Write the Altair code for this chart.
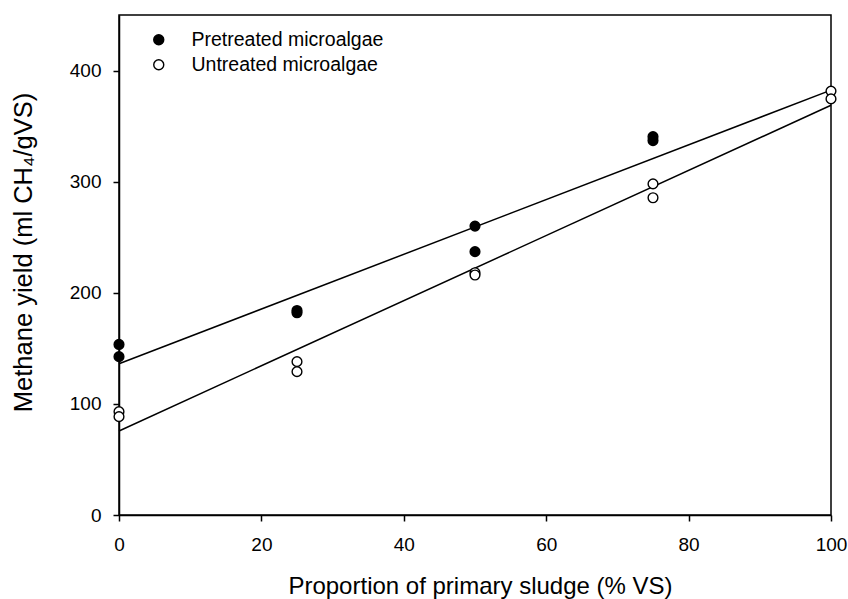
import altair as alt
import pandas as pd

# Data
pre_x = [0, 0, 25, 25, 50, 50, 75, 75]
pre_y = [153.5, 142.5, 184, 182, 260, 237, 340.5, 337]
unt_x = [0, 0, 25, 25, 50, 50, 75, 75]
unt_y = [93, 88.5, 138, 129, 218, 216, 298, 285.5]
sludge_x = [100, 100]
sludge_y = [381.5, 374.5]

series_names = ["Pretreated microalgae", "Untreated microalgae"]
x_ticks = [0, 20, 40, 60, 80, 100]
y_ticks = [0, 100, 200, 300, 400]

pts = pd.DataFrame({
    "x": pre_x + unt_x + sludge_x,
    "y": pre_y + unt_y + sludge_y,
    "series": [series_names[0]] * len(pre_x) + [series_names[1]] * (len(unt_x) + len(sludge_x)),
})

reg = pd.DataFrame({
    "x": pre_x + sludge_x + unt_x + sludge_x,
    "y": pre_y + sludge_y + unt_y + sludge_y,
    "grp": [series_names[0]] * (len(pre_x) + len(sludge_x)) + [series_names[1]] * (len(unt_x) + len(sludge_x)),
})

FONT = "Liberation Sans"

xenc = alt.X("x:Q", scale=alt.Scale(domain=[0, 100], nice=False),
             axis=alt.Axis(values=x_ticks, title="Proportion of primary sludge (% VS)",
                           labelFlush=False, labelPadding=14,
                           titleY=78, titleBaseline="alphabetic", titleX=361))
yenc = alt.Y("y:Q", scale=alt.Scale(domain=[0, 450], nice=False),
             axis=alt.Axis(values=y_ticks, title="Methane yield (ml CH₄/gVS)",
                           labelFlush=False, labelPadding=12, titleFontSize=25.5,
                           titleX=-88, titleY=237, titleBaseline="alphabetic", titleAlign="center"))

lines = alt.Chart(reg).transform_regression(
    "x", "y", groupby=["grp"], extent=[0, 100]
).mark_line(color="black", strokeWidth=1.5).encode(
    x=xenc, y=yenc, detail="grp:N"
)

points = alt.Chart(pts).mark_point(shape="circle", size=95, stroke="black",
                                    strokeWidth=1.4, opacity=1, filled=False).encode(
    x=xenc, y=yenc,
    fill=alt.Fill("series:N",
                  scale=alt.Scale(domain=series_names, range=["black", "white"]),
                  legend=alt.Legend(title=None, orient="none", legendX=30, legendY=15,
                                    labelFont=FONT, labelFontSize=19.5, labelColor="black",
                                    labelLimit=400,
                                    symbolType="circle", symbolSize=100,
                                    symbolStrokeColor="black", symbolStrokeWidth=1.4,
                                    labelOffset=23, rowPadding=4, padding=0)),
)

chart = alt.layer(lines, points).properties(
    width=712, height=500,
    background="white",
    autosize=alt.AutoSizeParams(type="none"),
    padding={"left": 119, "top": 15, "right": 17, "bottom": 84},
).configure_view(
    stroke="black", strokeWidth=1.5
).configure_axis(
    grid=False, domainColor="black", domainWidth=1.5,
    tickColor="black", tickWidth=1.5, tickSize=6,
    labelFont=FONT, labelFontSize=19, labelColor="black",
    titleFont=FONT, titleFontSize=24, titleFontWeight="normal", titleColor="black",
)

chart.save("out.html", embed_options={"renderer": "svg", "actions": False})
